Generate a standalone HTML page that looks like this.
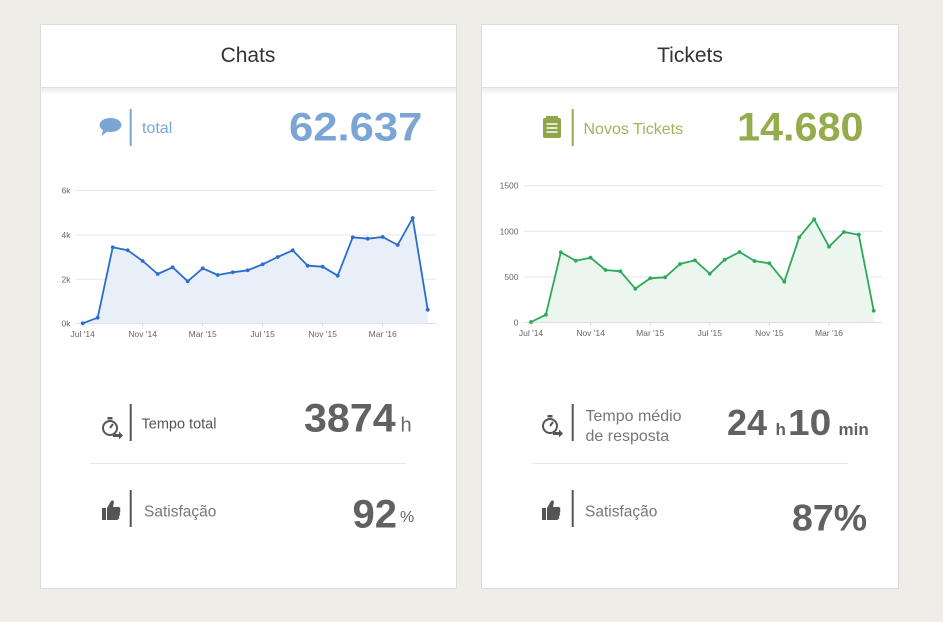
<!DOCTYPE html>
<html><head><meta charset="utf-8"><style>
html,body{margin:0;padding:0;background:#eeede8;}
svg{display:block;}
text{font-family:"Liberation Sans",sans-serif;}
</style></head><body>
<svg width="943" height="622" viewBox="0 0 943 622" xmlns="http://www.w3.org/2000/svg">
<defs>
<linearGradient id="hg" x1="0" y1="0" x2="0" y2="1"><stop offset="0" stop-color="#ededed"/><stop offset="1" stop-color="#ffffff"/></linearGradient>
<marker id="mb" markerUnits="userSpaceOnUse" markerWidth="6" markerHeight="6" refX="3" refY="3"><circle cx="3" cy="3" r="1.9" fill="#2b6dcc"/></marker>
<marker id="mg" markerUnits="userSpaceOnUse" markerWidth="6" markerHeight="6" refX="3" refY="3"><circle cx="3" cy="3" r="1.9" fill="#2fa85a"/></marker>
</defs>
<rect x="0" y="0" width="943" height="622" fill="#eeede8"/>

<!-- Cards -->
<rect x="40.5" y="24.5" width="416" height="564" fill="#fff" stroke="#dcdcda"/>
<rect x="481.5" y="24.5" width="417" height="564" fill="#fff" stroke="#dcdcda"/>
<rect x="41" y="88" width="415" height="7" fill="url(#hg)"/>
<rect x="482" y="88" width="416" height="7" fill="url(#hg)"/>
<line x1="41" y1="87.5" x2="456" y2="87.5" stroke="#e0e0e0"/>
<line x1="482" y1="87.5" x2="898" y2="87.5" stroke="#e0e0e0"/>

<text x="248" y="62" text-anchor="middle" font-size="21" fill="#333">Chats</text>
<text x="690" y="62" text-anchor="middle" font-size="21" fill="#333">Tickets</text>

<!-- Chats summary -->
<ellipse cx="110.5" cy="125" rx="11" ry="7" fill="#7aa6d6"/>
<path d="M103 130 L101.5 136 L108 131 Z" fill="#7aa6d6"/>
<line x1="130.7" y1="109" x2="130.7" y2="146" stroke="#7aa6d6" stroke-width="2"/>
<text x="142" y="133" font-size="16" fill="#7aa6d6">total</text>
<text transform="translate(289,140.7) scale(1.09,1)" x="0" y="0" font-size="40" font-weight="bold" fill="#7ba5d5">62.637</text>

<!-- Tickets summary -->
<rect x="543" y="118" width="18" height="20" rx="2" fill="#8fa64a"/>
<rect x="546" y="116" width="12" height="3" fill="#8fa64a"/>
<line x1="546.5" y1="124" x2="557.5" y2="124" stroke="#fff" stroke-width="1.5"/>
<line x1="546.5" y1="128" x2="557.5" y2="128" stroke="#fff" stroke-width="1.5"/>
<line x1="546.5" y1="132" x2="557.5" y2="132" stroke="#fff" stroke-width="1.5"/>
<line x1="572.7" y1="109" x2="572.7" y2="146" stroke="#95ad4f" stroke-width="2"/>
<text x="583.5" y="134" font-size="16" fill="#9db55a">Novos Tickets</text>
<text transform="translate(737,140.7) scale(1.035,1)" x="0" y="0" font-size="40" font-weight="bold" fill="#94ac4b">14.680</text>

<!-- Chart 1 -->
<g stroke="#e6e6e6" stroke-width="1">
<line x1="75.7" y1="190.5" x2="435.7" y2="190.5"/>
<line x1="75.7" y1="235" x2="435.7" y2="235"/>
<line x1="75.7" y1="279.3" x2="435.7" y2="279.3"/>
<line x1="75.7" y1="323.5" x2="435.7" y2="323.5" stroke="#dedede"/>
</g>
<g stroke="#d8d8d8">
<line x1="82.7" y1="324" x2="82.7" y2="327"/><line x1="142.7" y1="324" x2="142.7" y2="327"/><line x1="202.7" y1="324" x2="202.7" y2="327"/><line x1="262.7" y1="324" x2="262.7" y2="327"/><line x1="322.7" y1="324" x2="322.7" y2="327"/><line x1="382.7" y1="324" x2="382.7" y2="327"/>
</g>
<g font-size="8.5" fill="#666" text-anchor="end">
<text x="70.5" y="193.5">6k</text><text x="70.5" y="238">4k</text><text x="70.5" y="282.3">2k</text><text x="70.5" y="326.5">0k</text>
</g>
<g font-size="8.5" fill="#666" text-anchor="middle">
<text x="82.7" y="337">Jul '14</text><text x="142.7" y="337">Nov '14</text><text x="202.7" y="337">Mar '15</text><text x="262.7" y="337">Jul '15</text><text x="322.7" y="337">Nov '15</text><text x="382.7" y="337">Mar '16</text>
</g>
<polygon fill="#e8eff9" points="82.7,323.3 97.7,317.7 112.7,247.3 127.7,250.3 142.7,261 157.7,274 172.7,267.3 187.7,281.3 202.7,268.3 217.7,275 232.7,272.3 247.7,270.3 262.7,264.3 277.7,257 292.7,250.3 307.7,265.7 322.7,266.7 337.7,275.7 352.7,237.3 367.7,238.7 382.7,237 397.7,245 412.7,218 427.7,309.7 427.7,323.3"/>
<polyline fill="none" stroke="#2b6dcc" stroke-width="1.8" stroke-linejoin="round" marker-start="url(#mb)" marker-mid="url(#mb)" marker-end="url(#mb)" points="82.7,323.3 97.7,317.7 112.7,247.3 127.7,250.3 142.7,261 157.7,274 172.7,267.3 187.7,281.3 202.7,268.3 217.7,275 232.7,272.3 247.7,270.3 262.7,264.3 277.7,257 292.7,250.3 307.7,265.7 322.7,266.7 337.7,275.7 352.7,237.3 367.7,238.7 382.7,237 397.7,245 412.7,218 427.7,309.7"/>

<!-- Chart 2 -->
<g stroke="#e6e6e6" stroke-width="1">
<line x1="524" y1="185.7" x2="882" y2="185.7"/>
<line x1="524" y1="231.3" x2="882" y2="231.3"/>
<line x1="524" y1="277" x2="882" y2="277"/>
<line x1="524" y1="322.5" x2="882" y2="322.5" stroke="#dedede"/>
</g>
<g stroke="#d8d8d8">
<line x1="531" y1="323" x2="531" y2="326"/><line x1="590.6" y1="323" x2="590.6" y2="326"/><line x1="650.2" y1="323" x2="650.2" y2="326"/><line x1="709.8" y1="323" x2="709.8" y2="326"/><line x1="769.4" y1="323" x2="769.4" y2="326"/><line x1="829" y1="323" x2="829" y2="326"/>
</g>
<g font-size="8.5" fill="#666" text-anchor="end">
<text x="518.5" y="188.7">1500</text><text x="518.5" y="234.3">1000</text><text x="518.5" y="280">500</text><text x="518.5" y="325.5">0</text>
</g>
<g font-size="8.5" fill="#666" text-anchor="middle">
<text x="531" y="336">Jul '14</text><text x="590.6" y="336">Nov '14</text><text x="650.2" y="336">Mar '15</text><text x="709.8" y="336">Jul '15</text><text x="769.4" y="336">Nov '15</text><text x="829" y="336">Mar '16</text>
</g>
<polygon fill="#ebf6ee" points="531,322 545.9,314.7 560.8,252.3 575.7,260.7 590.6,257.7 605.5,270 620.4,271.3 635.3,288.7 650.2,278.3 665.1,277.3 680,264 694.9,260.3 709.8,273.7 724.7,259.7 739.6,252 754.5,261 769.4,263.3 784.3,281.7 799.2,237.3 814.1,219.3 829,246.7 843.9,232 858.8,234.7 873.7,310.7 873.7,322"/>
<polyline fill="none" stroke="#2fa85a" stroke-width="1.8" stroke-linejoin="round" marker-start="url(#mg)" marker-mid="url(#mg)" marker-end="url(#mg)" points="531,322 545.9,314.7 560.8,252.3 575.7,260.7 590.6,257.7 605.5,270 620.4,271.3 635.3,288.7 650.2,278.3 665.1,277.3 680,264 694.9,260.3 709.8,273.7 724.7,259.7 739.6,252 754.5,261 769.4,263.3 784.3,281.7 799.2,237.3 814.1,219.3 829,246.7 843.9,232 858.8,234.7 873.7,310.7"/>

<!-- Chats bottom rows -->
<g fill="none" stroke="#555" stroke-width="2">
<circle cx="110" cy="428" r="7"/>
<line x1="110" y1="428" x2="113" y2="424"/>
</g>
<rect x="107.5" y="417" width="5" height="2.5" fill="#555"/>
<path d="M113 434 H119 V431.5 L123 435.5 L119 439.5 V437 H113 Z" fill="#555"/>
<line x1="130.7" y1="404" x2="130.7" y2="441" stroke="#555" stroke-width="2"/>
<text x="141.5" y="428.3" font-size="14.5" fill="#555">Tempo total</text>
<text transform="translate(304,431.7) scale(1.03,1)" x="0" y="0" font-size="40" font-weight="bold" fill="#616161">3874</text>
<text x="400.5" y="431.7" font-size="20" fill="#666">h</text>
<line x1="90" y1="463.5" x2="406" y2="463.5" stroke="#e8e8e8"/>
<path d="M102 508 H106 V520 H102 Z M107 508 L111 501 Q113 499 114 502 L113 507 H119 Q121 508 120 510 Q121 512 119.5 513 Q121 515 119 516 Q120 519 117 520 H107 Z" fill="#555"/>
<line x1="130.7" y1="490" x2="130.7" y2="527" stroke="#555" stroke-width="2"/>
<text x="144" y="516.7" font-size="15.5" fill="#777">Satisfação</text>
<text x="352.5" y="527.7" font-size="40" font-weight="bold" fill="#616161">92</text>
<text x="400" y="522" font-size="16" fill="#6b625a">%</text>

<!-- Tickets bottom rows -->
<g fill="none" stroke="#555" stroke-width="2">
<circle cx="550" cy="426" r="7"/>
<line x1="550" y1="426" x2="553" y2="422"/>
</g>
<rect x="547.5" y="415" width="5" height="2.5" fill="#555"/>
<path d="M553 432 H559 V429.5 L563 433.5 L559 437.5 V435 H553 Z" fill="#555"/>
<line x1="572.7" y1="404" x2="572.7" y2="441" stroke="#555" stroke-width="2"/>
<text x="585.5" y="421" font-size="16" fill="#777">Tempo médio</text>
<text x="585.5" y="441" font-size="16" fill="#777">de resposta</text>
<text x="727" y="435" font-size="36" font-weight="bold" fill="#616161">24</text>
<text x="775.5" y="435" font-size="17" font-weight="bold" fill="#616161">h</text>
<text transform="translate(788,435) scale(1.08,1)" x="0" y="0" font-size="36" font-weight="bold" fill="#616161">10</text>
<text x="838.5" y="435" font-size="17" font-weight="bold" fill="#616161">min</text>
<line x1="532" y1="463.5" x2="848" y2="463.5" stroke="#e8e8e8"/>
<path d="M542 508 H546 V520 H542 Z M547 508 L551 501 Q553 499 554 502 L553 507 H559 Q561 508 560 510 Q561 512 559.5 513 Q561 515 559 516 Q560 519 557 520 H547 Z" fill="#555"/>
<line x1="572.7" y1="490" x2="572.7" y2="527" stroke="#555" stroke-width="2"/>
<text x="585" y="516.7" font-size="15.5" fill="#777">Satisfação</text>
<text x="792" y="530.5" font-size="37.5" font-weight="bold" fill="#616161">87%</text>
</svg>
</body></html>
